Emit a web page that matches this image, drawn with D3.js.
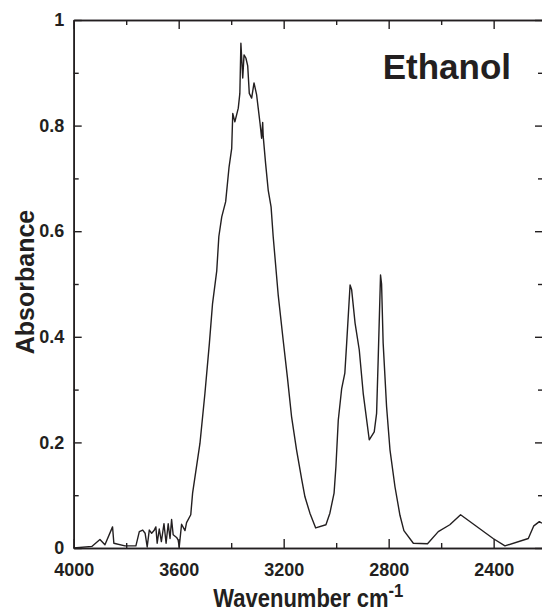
<!DOCTYPE html>
<html>
<head>
<meta charset="utf-8">
<script src="https://cdn.jsdelivr.net/npm/d3@7"></script>
<style>
  body { margin: 0; background: #fff; }
  svg { display: block; }
  text { font-family: "Liberation Sans", Arial, sans-serif; font-weight: bold; fill: #231f20; }
</style>
</head>
<body>
<div id="chart"></div>
<script>
// spectrum (wavenumber in cm-1, absorbance)
const wavenumbers = [4000,3931,3900,3881,3852,3847,3805,3763,3750,3737,3728,3720,3712,3703,3694,3687,3682,3674,3666,3656,
  3648,3640,3633,3627,3621,3608,3602,3598,3589,3576,3570,3554,3547,3519,3500,3483,3471,3455,3447,3436,
  3421,3408,3398,3394,3386,3373,3367,3363,3356,3351,3344,3337,3331,3322,3313,3303,3297,3290,3284,3280,
  3278,3269,3259,3248,3240,3221,3202,3186,3170,3151,3131,3119,3100,3078,3039,3024,3008,3001,2992,2979,
  2967,2960,2947,2941,2928,2912,2897,2874,2855,2846,2840,2831,2827,2821,2808,2795,2776,2757,2742,2706,
  2652,2611,2567,2526,2402,2357,2268,2247,2226,2216];
const absorbance = [0.000,0.003,0.016,0.006,0.040,0.009,0.004,0.004,0.031,0.034,0.028,0.002,0.034,0.028,0.033,0.040,0.009,0.036,0.012,0.046,
  0.009,0.046,0.018,0.054,0.025,0.020,0.015,0.002,0.045,0.033,0.048,0.063,0.104,0.198,0.293,0.388,0.463,0.525,0.590,0.627,
  0.656,0.722,0.757,0.823,0.807,0.833,0.861,0.956,0.890,0.934,0.928,0.913,0.861,0.852,0.881,0.858,0.833,0.804,0.776,0.806,
  0.780,0.729,0.678,0.646,0.590,0.480,0.394,0.324,0.249,0.186,0.129,0.097,0.066,0.038,0.044,0.066,0.104,0.154,0.242,0.302,
  0.331,0.388,0.498,0.489,0.426,0.375,0.293,0.205,0.220,0.255,0.356,0.517,0.500,0.388,0.268,0.186,0.116,0.062,0.033,0.009,
  0.008,0.031,0.044,0.063,0.018,0.004,0.018,0.042,0.050,0.047];

const xMajor = [4000, 3600, 3200, 2800, 2400];
const xMinor = [3800, 3400, 3000, 2600];
const yMajor = [0, 0.2, 0.4, 0.6, 0.8, 1];
const yMinor = [0.1, 0.3, 0.5, 0.7, 0.9];

const width = 542, height = 612;
const margin = { left: 73.7, right: 543, top: 20, bottom: 548 };
const ink = "#231f20";

const svg = d3.select("#chart").append("svg")
  .attr("width", width)
  .attr("height", height);

const x = d3.scaleLinear().domain([4000, 2212]).range([margin.left, margin.right]);
const y = d3.scaleLinear().domain([0, 1]).range([margin.bottom, margin.top]);

const data = wavenumbers.map((w, i) => ({ w: w, a: absorbance[i] }));

// axes: major ticks with labels, minor ticks shorter, all pointing inward
function styleAxis(g) {
  g.selectAll("path.domain").attr("stroke", ink).attr("stroke-width", 1.6);
  g.selectAll(".tick line").attr("stroke", ink).attr("stroke-width", 1.4);
  g.selectAll(".tick text").attr("fill", ink).style("font-size", "18px")
    .style("font-family", '"Liberation Sans", Arial, sans-serif').style("font-weight", "bold");
}

svg.append("g")
  .attr("transform", "translate(0," + margin.bottom + ")")
  .call(d3.axisBottom(x).tickValues(xMajor).tickSize(-9).tickSizeOuter(0).tickPadding(15).tickFormat(d3.format("d")))
  .call(styleAxis);
svg.append("g")
  .attr("transform", "translate(0," + margin.bottom + ")")
  .call(d3.axisBottom(x).tickValues(xMinor).tickSize(-5).tickSizeOuter(0).tickFormat(""))
  .call(styleAxis);

svg.append("g")
  .attr("transform", "translate(0," + margin.top + ")")
  .call(d3.axisTop(x).tickValues(xMajor).tickSize(-9).tickSizeOuter(0).tickFormat(""))
  .call(styleAxis);
svg.append("g")
  .attr("transform", "translate(0," + margin.top + ")")
  .call(d3.axisTop(x).tickValues(xMinor).tickSize(-5).tickSizeOuter(0).tickFormat(""))
  .call(styleAxis);

svg.append("g")
  .attr("transform", "translate(" + margin.left + ",0)")
  .call(d3.axisLeft(y).tickValues(yMajor).tickSize(-8).tickSizeOuter(0).tickPadding(9.5)
    .tickFormat(d => d === 0 || d === 1 ? d3.format("d")(d) : d3.format(".1f")(d)))
  .call(styleAxis);
svg.append("g")
  .attr("transform", "translate(" + margin.left + ",0)")
  .call(d3.axisLeft(y).tickValues(yMinor).tickSize(-5).tickSizeOuter(0).tickFormat(""))
  .call(styleAxis);

svg.append("g")
  .attr("transform", "translate(" + margin.right + ",0)")
  .call(d3.axisRight(y).tickValues(yMajor).tickSize(-8).tickSizeOuter(0).tickFormat(""))
  .call(styleAxis);
svg.append("g")
  .attr("transform", "translate(" + margin.right + ",0)")
  .call(d3.axisRight(y).tickValues(yMinor).tickSize(-5).tickSizeOuter(0).tickFormat(""))
  .call(styleAxis);

// spectrum
const line = d3.line()
  .x(d => x(d.w))
  .y(d => y(d.a));

svg.append("path")
  .datum(data)
  .attr("fill", "none")
  .attr("stroke", ink)
  .attr("stroke-width", 1.4)
  .attr("stroke-linejoin", "round")
  .attr("d", line);

// labels
svg.append("text")
  .attr("x", 511)
  .attr("y", 79)
  .attr("text-anchor", "end")
  .style("font-size", "35px")
  .text("Ethanol");

const xTitle = svg.append("text")
  .attr("transform", "translate(" + ((margin.left + margin.right) / 2) + ",607) scale(0.88,1)")
  .attr("text-anchor", "middle")
  .style("font-size", "25px");
xTitle.append("tspan").text("Wavenumber cm");
xTitle.append("tspan").attr("dy", -10).style("font-size", "19px").text("-1");

svg.append("text")
  .attr("transform", "translate(34,282) rotate(-90)")
  .attr("text-anchor", "middle")
  .style("font-size", "25px")
  .text("Absorbance");
</script>
</body>
</html>
